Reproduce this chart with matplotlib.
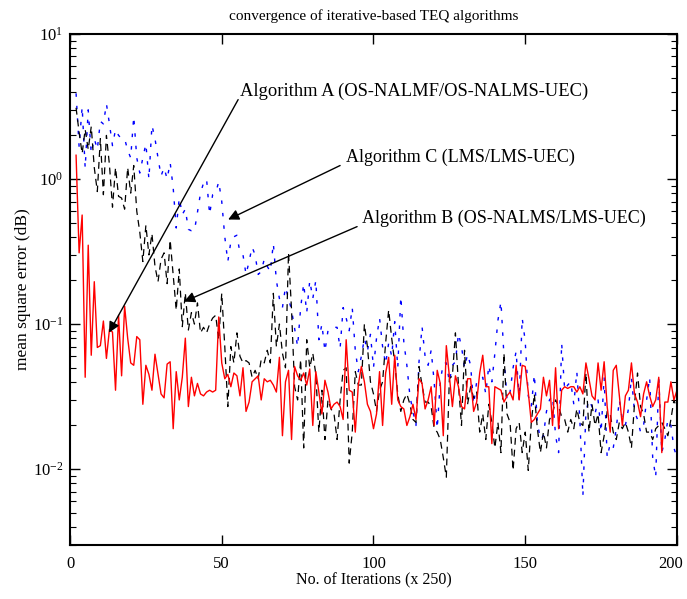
import numpy as np
import matplotlib
matplotlib.use('Agg')
import matplotlib.pyplot as plt
import matplotlib.transforms as mtransforms

plt.rcParams['font.family'] = ['Liberation Serif', 'DejaVu Serif']
plt.rcParams['mathtext.fontset'] = 'stix'

# MSE per iteration (x 250), iterations 2..200
alg_a = [1.46, 0.31, 0.565, 0.043, 0.35, 0.061, 0.196, 0.069, 0.071,
         0.105, 0.058, 0.092, 0.088, 0.035, 0.115, 0.044, 0.133, 0.080, 0.054,
         0.052, 0.082, 0.078, 0.028, 0.052, 0.045, 0.035, 0.062, 0.045, 0.033,
         0.031, 0.053, 0.055, 0.019, 0.047, 0.030, 0.043, 0.080, 0.027, 0.043,
         0.032, 0.039, 0.033, 0.032, 0.034, 0.035, 0.034, 0.035, 0.112, 0.054,
         0.042, 0.045, 0.037, 0.046, 0.044, 0.032, 0.050, 0.025, 0.029, 0.040,
         0.042, 0.044, 0.030, 0.042, 0.040, 0.041, 0.038, 0.034, 0.059, 0.017,
         0.040, 0.048, 0.016, 0.051, 0.044, 0.041, 0.046, 0.038, 0.049, 0.020,
         0.047, 0.034, 0.024, 0.041, 0.034, 0.026, 0.028, 0.029, 0.027, 0.022,
         0.078, 0.035, 0.034, 0.018, 0.038, 0.051, 0.040, 0.028, 0.025, 0.019,
         0.024, 0.047, 0.020, 0.046, 0.059, 0.028, 0.061, 0.030, 0.027, 0.026,
         0.020, 0.023, 0.028, 0.022, 0.042, 0.039, 0.026, 0.030, 0.037, 0.020,
         0.048, 0.039, 0.017, 0.071, 0.044, 0.027, 0.044, 0.037, 0.027, 0.026,
         0.042, 0.042, 0.025, 0.029, 0.046, 0.061, 0.037, 0.037, 0.015, 0.037,
         0.036, 0.035, 0.029, 0.032, 0.034, 0.030, 0.052, 0.030, 0.052, 0.051,
         0.034, 0.021, 0.022, 0.024, 0.026, 0.043, 0.032, 0.041, 0.020, 0.050,
         0.019, 0.035, 0.037, 0.036, 0.037, 0.037, 0.034, 0.037, 0.033, 0.054,
         0.042, 0.032, 0.030, 0.054, 0.035, 0.055, 0.027, 0.018, 0.048, 0.052,
         0.032, 0.020, 0.032, 0.035, 0.054, 0.033, 0.029, 0.023, 0.033, 0.040,
         0.032, 0.027, 0.030, 0.043, 0.013, 0.029, 0.029, 0.040, 0.030, 0.035]

alg_b = [3.1, 2.1, 1.5, 2.2, 1.6, 2.3, 1.2, 0.82, 1.9,
         0.78, 2.0, 1.25, 0.64, 1.2, 0.76, 0.74, 0.62, 1.2, 0.8,
         1.24, 0.6, 0.43, 0.27, 0.48, 0.30, 0.42, 0.25, 0.196, 0.28,
         0.31, 0.19, 0.38, 0.22, 0.125, 0.24, 0.096, 0.164, 0.091, 0.12,
         0.10, 0.14, 0.087, 0.095, 0.087, 0.10, 0.11, 0.115, 0.078, 0.163,
         0.07, 0.027, 0.07, 0.054, 0.087, 0.06, 0.054, 0.056, 0.054, 0.043,
         0.048, 0.042, 0.057, 0.054, 0.066, 0.054, 0.163, 0.07, 0.10, 0.063,
         0.05, 0.31, 0.125, 0.037, 0.03, 0.057, 0.014, 0.078, 0.05, 0.063,
         0.045, 0.018, 0.035, 0.016, 0.03, 0.026, 0.024, 0.016, 0.03, 0.048,
         0.05, 0.011, 0.018, 0.047, 0.038, 0.038, 0.10, 0.07, 0.04, 0.033,
         0.025, 0.035, 0.04, 0.074, 0.125, 0.08, 0.054, 0.033, 0.025, 0.03,
         0.033, 0.028, 0.022, 0.021, 0.051, 0.038, 0.029, 0.029, 0.027, 0.019,
         0.018, 0.016, 0.012, 0.0088, 0.042, 0.044, 0.087, 0.038, 0.02, 0.066,
         0.028, 0.037, 0.031, 0.034, 0.018, 0.024, 0.016, 0.028, 0.021, 0.014,
         0.021, 0.013, 0.063, 0.024, 0.021, 0.0098, 0.019, 0.021, 0.013, 0.018,
         0.0098, 0.021, 0.033, 0.019, 0.013, 0.018, 0.014, 0.022, 0.024, 0.03,
         0.027, 0.023, 0.022, 0.018, 0.022, 0.019, 0.026, 0.021, 0.02, 0.046,
         0.018, 0.028, 0.02, 0.024, 0.013, 0.017, 0.025, 0.024, 0.018, 0.016,
         0.021, 0.019, 0.021, 0.018, 0.014, 0.028, 0.046, 0.027, 0.024, 0.018,
         0.018, 0.016, 0.019, 0.02, 0.021, 0.019, 0.017, 0.022, 0.03, 0.026]

alg_c = [3.9, 1.67, 3.15, 1.19, 3.0, 1.5, 1.9, 1.6, 2.5,
         2.4, 3.3, 2.4, 1.7, 2.2, 2.0, 1.9, 1.9, 1.58, 1.4,
         2.7, 1.4, 1.1, 1.4, 1.75, 1.0, 2.35, 1.9, 1.4, 1.05,
         1.2, 1.0, 1.3, 0.87, 0.46, 0.74, 0.57, 0.62, 0.45, 0.44,
         0.44, 0.59, 0.8, 0.94, 1.0, 0.57, 0.78, 0.8, 0.96, 0.7,
         0.40, 0.27, 0.37, 0.40, 0.41, 0.31, 0.30, 0.22, 0.27, 0.34,
         0.30, 0.22, 0.23, 0.28, 0.25, 0.23, 0.36, 0.2, 0.15, 0.13,
         0.18, 0.15, 0.125, 0.094, 0.07, 0.13, 0.19, 0.12, 0.2, 0.15,
         0.2, 0.078, 0.1, 0.065, 0.09, 0.09, 0.095, 0.095, 0.068, 0.13,
         0.11, 0.09, 0.13, 0.066, 0.047, 0.06, 0.08, 0.065, 0.085, 0.05,
         0.08, 0.11, 0.07, 0.053, 0.074, 0.06, 0.104, 0.05, 0.155, 0.075,
         0.052, 0.032, 0.025, 0.020, 0.055, 0.096, 0.06, 0.052, 0.066, 0.04,
         0.019, 0.04, 0.054, 0.054, 0.04, 0.052, 0.055, 0.086, 0.07, 0.05,
         0.062, 0.052, 0.028, 0.04, 0.04, 0.043, 0.033, 0.052, 0.04, 0.063,
         0.106, 0.143, 0.06, 0.03, 0.034, 0.05, 0.065, 0.03, 0.11, 0.076,
         0.032, 0.027, 0.045, 0.021, 0.016, 0.017, 0.025, 0.03, 0.032, 0.017,
         0.013, 0.074, 0.035, 0.038, 0.04, 0.028, 0.047, 0.022, 0.0065, 0.025,
         0.03, 0.027, 0.024, 0.03, 0.018, 0.043, 0.012, 0.015, 0.014, 0.019,
         0.03, 0.022, 0.02, 0.026, 0.043, 0.025, 0.022, 0.018, 0.02, 0.03,
         0.043, 0.012, 0.0088, 0.043, 0.013, 0.016, 0.022, 0.02, 0.014, 0.012]

it_a = np.arange(2, 2 + len(alg_a))
it_b = np.arange(2, 2 + len(alg_b))
it_c = np.arange(2, 2 + len(alg_c))

fig = plt.figure(figsize=(6.87, 5.99), dpi=100)
ax = fig.add_axes([0.1019, 0.0902, 0.8835, 0.853])

ax.plot(it_c, alg_c, color='#0000ff', lw=1.0, dashes=(2.5, 6.5))
ax.plot(it_b, alg_b, color='black', lw=0.9, dashes=(5.5, 4))
ax.plot(it_a, alg_a, color='#ff0000', lw=1.0)

ax.set_yscale('log')
ax.set_xlim(0, 200)
ax.set_ylim(3e-3, 10)
ax.set_xticks([0, 50, 100, 150, 200])
ax.set_yticks([1e-2, 1e-1, 1e0, 1e1])
ax.tick_params(which='both', direction='in', top=True, right=True, labelsize=12)
ax.tick_params(which='major', length=7, width=1)
ax.tick_params(which='minor', length=4, width=0.8)
ax.tick_params(axis='y', pad=5)
ax.tick_params(axis='x', pad=8)
for s in ax.spines.values():
    s.set_linewidth(1.5)

# keep the last x label inside the figure
fig.canvas.draw()
last = ax.get_xticklabels()[-1]
last.set_transform(last.get_transform() + mtransforms.ScaledTranslation(-6 / 100, 0, fig.dpi_scale_trans))

ax.set_title('convergence of iterative-based TEQ algorithms', fontsize=11, pad=10)
ax.set_xlabel('No. of Iterations (x 250)', fontsize=11.5, labelpad=0)
ax.set_ylabel('mean square error (dB)', fontsize=12.5, labelpad=1)

arrow = dict(arrowstyle='-|>', color='black', lw=1, mutation_scale=16, shrinkA=0, shrinkB=0)
ax.annotate('', xy=(12.85, 0.0873), xytext=(55.4, 3.53), arrowprops=arrow)
ax.annotate('', xy=(52.1, 0.526), xytext=(89.0, 1.24), arrowprops=arrow)
ax.annotate('', xy=(37.6, 0.143), xytext=(94.6, 0.47), arrowprops=arrow)
ax.text(56.0, 4.0, 'Algorithm A (OS-NALMF/OS-NALMS-UEC)', fontsize=13.3, va='center')
ax.text(90.9, 1.41, 'Algorithm C (LMS/LMS-UEC)', fontsize=13, va='center')
ax.text(96.2, 0.534, 'Algorithm B (OS-NALMS/LMS-UEC)', fontsize=13, va='center')

fig.savefig('out.png', dpi=100)
